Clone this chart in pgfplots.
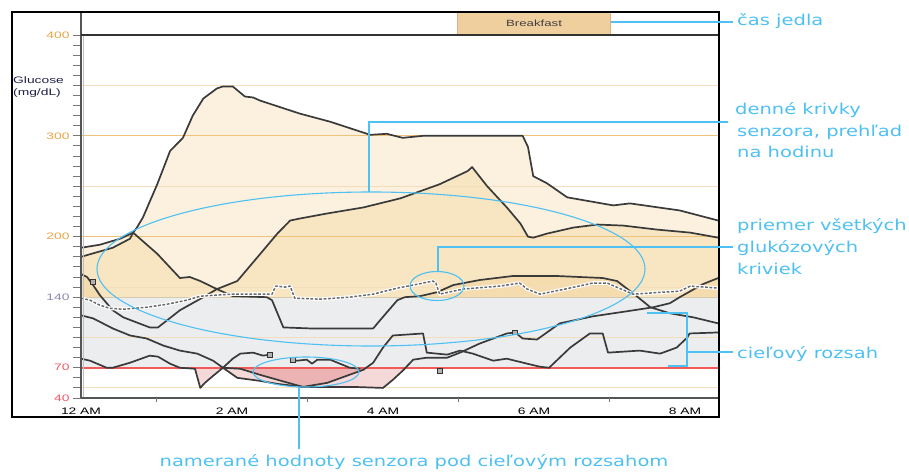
\documentclass[border=0pt]{standalone}
\usepackage{pgfplots}
\pgfplotsset{compat=1.18}
\usepackage{graphicx}
\usepackage{fontspec}
\setmainfont{Liberation Sans}
\newfontfamily\annfont{DejaVu Sans}
\definecolor{cLight}{HTML}{FBF1DE}
\definecolor{cMed}{HTML}{F8E6C2}
\definecolor{cDark}{HTML}{F4DCAE}
\definecolor{cGray}{HTML}{ECEDEF}
\definecolor{cPinkL}{HTML}{F5D9D9}
\definecolor{cPinkD}{HTML}{EBB3B3}
\definecolor{cRedLine}{HTML}{F25A5A}
\definecolor{cGridO}{HTML}{EEC27A}
\definecolor{cGridF}{HTML}{F3DDBD}
\definecolor{cLine140}{HTML}{D5C9AE}
\definecolor{cCurve}{HTML}{3A3A3A}
\definecolor{cMean}{HTML}{6A6A6A}
\definecolor{cAxis}{HTML}{555555}
\definecolor{cTick}{HTML}{777777}
\definecolor{cOrange}{HTML}{E8A545}
\definecolor{cPurple}{HTML}{8C89AC}
\definecolor{cRed}{HTML}{F05A64}
\definecolor{cBlue}{HTML}{4EC0F2}
\definecolor{cBreak}{HTML}{F0CF9E}
\definecolor{cBreakEdge}{HTML}{DDB27A}
\definecolor{cNavy}{HTML}{20204A}
\newcommand{\sx}[1]{\scalebox{1.47}[1]{#1}}
\newcommand{\ax}[1]{\scalebox{1.3}[1]{#1}}
\begin{document}
\begin{tikzpicture}
\path[use as bounding box] (0,0) rectangle (909pt,471pt);
\begin{axis}[
  at={(81pt,73pt)}, anchor=south west,
  scale only axis, width=637pt, height=363pt,
  xmin=0, xmax=8.437, ymin=40, ymax=400,
  axis x line*=bottom, axis y line*=left,
  axis line style={draw=cAxis, line width=1.2pt, -},
  xtick={0,2,4,6,8},
  xticklabels={\sx{12 AM},\sx{2 AM},\sx{4 AM},\sx{6 AM},\sx{8 AM}},
  ytick={40,70,140,200,300,400},
  yticklabels={\sx{\textcolor{cRed}{40}},\sx{\textcolor{cRed}{70}},\sx{\textcolor{cPurple}{140}},\sx{\textcolor{cOrange}{200}},\sx{\textcolor{cOrange}{300}},\sx{\textcolor{cOrange}{400}}},
  minor ytick={50,60,...,390},
  tick align=outside,
  major tick length=8pt, minor tick length=8pt,
  tick style={draw=cTick, line width=0.9pt},
  xtick style={draw=none},
  extra x ticks={1,3,5,7}, extra x tick labels={},
  extra x tick style={major tick length=4pt, xtick style={draw=cTick}},
  ticklabel style={font=\fontsize{9.4}{11}\selectfont},
  xticklabel style={text=black, yshift=2pt},
]
% target band
\addplot[fill=cGray, draw=none] coordinates {(0,70) (8.44,70) (8.44,140) (0,140)} -- cycle;
% light tan under top curve
\addplot[fill=cLight, draw=none] coordinates {(0,140) (0,189) (0.25,192) (0.52,198) (0.69,204) (0.74,209) (0.82,219) (1.01,252) (1.18,285) (1.35,298) (1.48,320) (1.62,337) (1.80,347) (1.88,349) (2.01,349) (2.17,339) (2.28,338) (2.37,335) (2.90,322) (3.30,314) (3.83,301) (4.05,302) (4.26,298) (4.53,300) (5.85,300) (5.92,289) (5.99,260) (6.17,253) (6.44,239) (7.05,231) (7.27,233) (7.93,226) (8.44,216) (8.44,140)} -- cycle;
% medium tan under second curve
\addplot[fill=cMed, draw=none] coordinates {(0,140) (0,180) (0.42,189) (0.65,198) (0.69,204) (1.01,183) (1.31,159) (1.44,160) (1.58,156) (1.80,148) (2.07,156) (2.33,179) (2.60,203) (2.77,216) (2.90,218) (3.26,223) (3.74,229) (4.23,238) (4.75,252) (5.12,265) (5.18,269) (5.38,250) (5.64,229) (5.82,213) (5.92,200) (5.99,199) (6.17,203) (6.52,209) (6.84,212) (7.18,211) (7.63,207) (8.07,204) (8.44,199) (8.44,140)} -- cycle;
% darker tan under third curve
\addplot[fill=cDark, draw=none] coordinates {(0,140) (0,163) (0.08,160) (0.16,152) (0.25,142) (0.27,140)} -- cycle;
\addplot[fill=cDark, draw=none] coordinates {(4.29,140) (4.49,141) (4.72,145) (4.93,152) (5.28,157) (5.72,161) (6.30,161) (6.91,159) (7.10,156) (7.36,141) (7.37,140)} -- cycle;
\addplot[fill=cDark, draw=none] coordinates {(7.93,140) (8.24,153) (8.44,159) (8.44,140)} -- cycle;
% pink below target
\addplot[fill=cPinkL, draw=none] coordinates {(1.51,70) (1.58,50) (1.64,55) (1.75,62) (1.88,70)} -- cycle;
\addplot[fill=cPinkL, draw=none] coordinates {(1.88,70) (2.07,60) (2.37,57) (2.60,54) (2.94,51) (3.20,51) (3.60,51) (4.00,50) (4.13,58) (4.26,67) (4.30,70)} -- cycle;
\addplot[fill=cPinkD, draw=none] coordinates {(2.06,70) (2.11,69) (2.37,63) (2.70,56) (2.94,51) (3.26,55) (3.74,68) (3.79,70)} -- cycle;
% grid lines
\addplot[draw=cGridF, line width=1pt] coordinates {(0,50) (8.44,50)};
\addplot[draw=cGridF, line width=1pt] coordinates {(0,100) (8.44,100)};
\addplot[draw=cGridF, line width=1pt] coordinates {(0,150) (8.44,150)};
\addplot[draw=cGridF, line width=1pt] coordinates {(0,250) (8.44,250)};
\addplot[draw=cGridF, line width=1pt] coordinates {(0,350) (8.44,350)};
\addplot[draw=cGridO, line width=1.3pt] coordinates {(0,200) (8.44,200)};
\addplot[draw=cGridO, line width=1.3pt] coordinates {(0,300) (8.44,300)};
\addplot[draw=cLine140, line width=1.1pt] coordinates {(0,140) (8.44,140)};
\addplot[draw=cRedLine, line width=2pt] coordinates {(0,70) (8.44,70)};
% daily curves
\begin{scope}[every path/.append style={line join=round}]
\addplot[draw=cCurve, line width=1.7pt] coordinates {(0,189) (0.25,192) (0.52,198) (0.69,204) (0.74,209) (0.82,219) (1.01,252) (1.18,285) (1.35,298) (1.48,320) (1.62,337) (1.80,347) (1.88,349) (2.01,349) (2.17,339) (2.28,338) (2.37,335) (2.90,322) (3.30,314) (3.83,301) (4.05,302) (4.26,298) (4.53,300) (5.85,300) (5.92,289) (5.99,260) (6.17,253) (6.44,239) (7.05,231) (7.27,233) (7.93,226) (8.44,216)};
\addplot[draw=cCurve, line width=1.7pt] coordinates {(0,180) (0.42,189) (0.65,198) (0.69,204) (1.01,183) (1.31,159) (1.44,160) (1.58,156) (1.80,148)};
\addplot[draw=cCurve, line width=1.7pt] coordinates {(1.80,148) (2.07,156) (2.33,179) (2.60,203) (2.77,216) (2.90,218) (3.26,223) (3.74,229) (4.23,238) (4.75,252) (5.12,265) (5.18,269) (5.38,250) (5.64,229) (5.82,213) (5.92,200) (5.99,199) (6.17,203) (6.52,209) (6.84,212) (7.18,211) (7.63,207) (8.07,204) (8.44,199)};
\addplot[draw=cCurve, line width=1.7pt] coordinates {(0,163) (0.08,160) (0.16,152) (0.25,142) (0.42,127) (0.56,120) (0.91,110) (1.02,110) (1.31,127) (1.62,140) (1.80,148)};
\addplot[draw=cCurve, line width=1.7pt] coordinates {(1.80,148) (2.01,141) (2.46,140) (2.53,137) (2.68,110) (3.03,109) (3.87,109) (3.96,117) (4.19,137) (4.29,140) (4.49,141) (4.72,145) (4.93,152) (5.28,157) (5.72,161) (6.30,161) (6.91,159) (7.10,156) (7.36,141) (7.54,130) (7.80,124) (8.11,120) (8.44,114)};
\addplot[draw=cCurve, line width=1.7pt] coordinates {(0,122) (0.16,119) (0.42,109) (0.65,102) (0.87,99) (1.09,92) (1.31,87) (1.54,84) (1.75,77) (1.88,70) (2.07,60) (2.37,57) (2.60,54) (2.94,51) (3.26,55) (3.74,68) (3.87,75) (4.00,90) (4.13,102) (4.53,104) (4.58,85) (4.85,83) (5.02,87) (5.19,84) (5.46,77) (5.64,79) (5.91,74) (6.08,71) (6.20,70) (6.34,80) (6.48,90) (6.74,104) (6.91,104) (6.98,85) (7.40,87) (7.67,84) (7.89,90) (8.03,100) (8.06,104) (8.44,105)};
\addplot[draw=cCurve, line width=1.7pt] coordinates {(0,79) (0.12,77) (0.34,70) (0.42,70) (0.65,75) (0.91,82) (1.02,81) (1.18,74) (1.31,70) (1.51,69) (1.58,50) (1.64,55) (1.75,62) (1.88,70) (2.01,79) (2.11,84) (2.28,85) (2.41,82) (2.50,83)};
\addplot[draw=cCurve, line width=1.7pt] coordinates {(2.81,78) (2.86,77) (2.99,78) (3.06,74) (3.13,78) (3.30,78) (3.43,74) (3.56,70) (3.70,69)};
\addplot[draw=cCurve, line width=1.7pt] coordinates {(1.88,70) (2.11,69) (2.37,63) (2.70,56) (2.94,51) (3.20,51) (3.60,51) (4.00,50) (4.13,58) (4.26,67) (4.40,78) (4.58,80) (4.85,80) (5.02,85) (5.28,94) (5.64,104) (5.75,105) (5.85,99) (6.04,98) (6.34,114) (6.78,121) (7.23,126) (7.58,130) (7.80,134) (7.93,140) (8.24,153) (8.44,159)};
\end{scope}
% mean of all curves
\addplot[draw=white, line width=3.6pt, line join=round] coordinates {(0,139) (0.12,137) (0.25,132) (0.38,129) (0.56,128) (0.87,130) (1.14,133) (1.40,137) (1.58,141) (2.01,143) (2.53,143) (2.58,151) (2.70,150) (2.77,151) (2.83,139) (3.17,138) (3.56,140) (3.87,143) (4.19,149) (4.40,152) (4.66,156) (4.70,154) (4.75,143) (5.06,148) (5.55,151) (5.81,154) (5.91,148) (6.08,143) (6.41,148) (6.78,154) (6.97,154) (7.31,143) (7.93,146) (8.07,151) (8.44,149)};
\addplot[draw=cMean, line width=1.5pt, dash pattern=on 2.8pt off 1.6pt, line join=round] coordinates {(0,139) (0.12,137) (0.25,132) (0.38,129) (0.56,128) (0.87,130) (1.14,133) (1.40,137) (1.58,141) (2.01,143) (2.53,143) (2.58,151) (2.70,150) (2.77,151) (2.83,139) (3.17,138) (3.56,140) (3.87,143) (4.19,149) (4.40,152) (4.66,156) (4.70,154) (4.75,143) (5.06,148) (5.55,151) (5.81,154) (5.91,148) (6.08,143) (6.41,148) (6.78,154) (6.97,154) (7.31,143) (7.93,146) (8.07,151) (8.44,149)};
% event markers
\addplot[only marks, mark=square*, mark size=2.4pt, mark options={fill=black!30, draw=black!80, line width=0.9pt}] coordinates {(0.16,155) (2.50,83) (2.81,78) (4.75,67) (5.75,105)};
\end{axis}
\begin{scope}[yshift=471pt, x=1pt, y=-1pt]
  \draw[black!25, line width=0.8pt] (83.8,36) -- (83.8,397);
  \draw[cAxis, line width=1.2pt] (81,12) -- (81,398);
  \draw[black!80, line width=1.3pt] (81,35) -- (719,35);
  \fill[cBreak] (457,12) rectangle (611,34.4);
  \draw[cBreakEdge, line width=1.5pt] (457.7,12) -- (457.7,34.4) (610.3,12) -- (610.3,34.4);
  \node[inner sep=0pt, text=black!75, font=\fontsize{9}{10}\selectfont] at (534,23.5) {\sx{Breakfast}};
  \draw[black, line width=2.2pt] (12,12) rectangle (719,417);
  \node[anchor=west, inner sep=0pt, text=cNavy, font=\fontsize{9.4}{11}\selectfont] at (13,80) {\sx{Glucose}};
  \node[anchor=west, inner sep=0pt, text=cNavy, font=\fontsize{9.4}{11}\selectfont] at (13,93) {\sx{(mg/dL)}};
  % annotation shapes
  \draw[cBlue, line width=1.1pt] (371,269) ellipse [x radius=274, y radius=77];
  \draw[cBlue, line width=1.1pt] (437,286) ellipse [x radius=27, y radius=14.5];
  \draw[cBlue, line width=1.1pt] (306,372) ellipse [x radius=53, y radius=15];
  \draw[cBlue, line width=2pt] (611,22) -- (733,22);
  \draw[cBlue, line width=2pt] (369,192) -- (369,122) -- (728,122);
  \draw[cBlue, line width=2pt] (438,272) -- (438,247) -- (733,247);
  \draw[cBlue, line width=2pt] (647,313) -- (687,313) -- (687,366) -- (668,366);
  \draw[cBlue, line width=2pt] (687,352.5) -- (733,352.5);
  \draw[cBlue, line width=2pt] (298.5,387) -- (298.5,449);
  % annotation texts
  \begin{scope}[every node/.style={anchor=base west, inner sep=0pt, text=cBlue, font=\fontsize{15}{18}\annfont}]
    \node at (737,26) {\ax{čas jedla}};
    \node at (735,115) {\ax{denné krivky}};
    \node at (737,137) {\ax{senzora, prehľad}};
    \node at (737,158) {\ax{na hodinu}};
    \node at (737,231) {\ax{priemer všetkých}};
    \node at (737,253) {\ax{glukózových}};
    \node at (737,275) {\ax{kriviek}};
    \node at (737,358) {\ax{cieľový rozsah}};
    \node[anchor=base] at (414,466) {\ax{namerané hodnoty senzora pod cieľovým rozsahom}};
  \end{scope}
\end{scope}
\end{tikzpicture}
\end{document}
